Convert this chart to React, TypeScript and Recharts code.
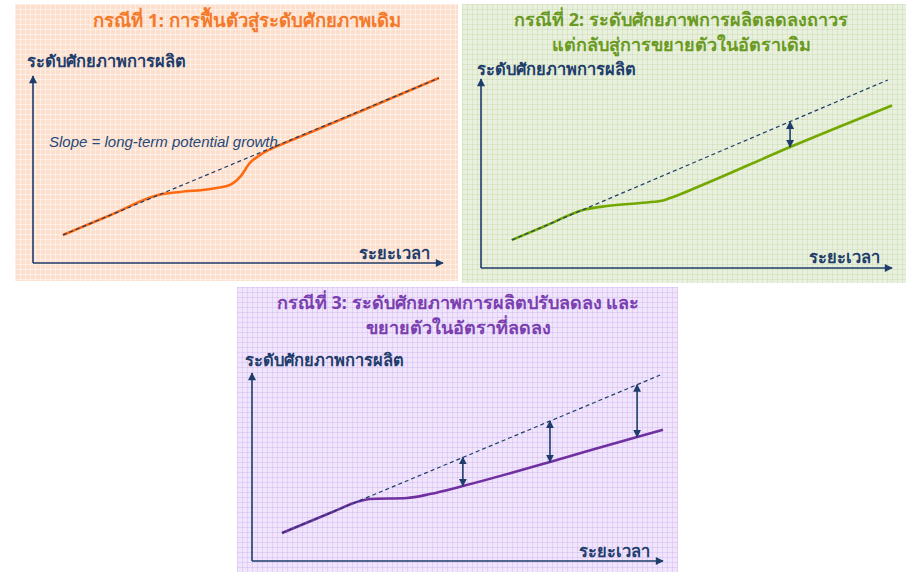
import React from "react";
import { Line, LineChart, ReferenceLine, XAxis, YAxis } from "recharts";

const NAVY = "#1f3d6b";
const FONT = '"Noto Sans", "DejaVu Sans", sans-serif';

// time t (0-100) vs potential output level v (0-100)

// case 1: recovery back to the original potential path
const potential1 = [
  { t: 7.3, v: 15.0 },
  { t: 99.0, v: 98.9 },
];
const output1 = [
  { t: 7.3, v: 15.0 },
  { t: 18.8, v: 25.5 },
  { t: 31.0, v: 36.6 },
  { t: 35.9, v: 38.0 },
  { t: 43.2, v: 39.6 },
  { t: 48.0, v: 41.7 },
  { t: 50.5, v: 46.0 },
  { t: 52.9, v: 53.5 },
  { t: 55.4, v: 57.8 },
  { t: 58.5, v: 61.5 },
  { t: 62.0, v: 64.7 },
  { t: 79.8, v: 81.0 },
  { t: 99.0, v: 98.9 },
];
const gaps1: { t: number; top: number; bottom: number }[] = [];

// case 2: permanent level loss, same growth rate
const potential2 = [
  { t: 7.5, v: 14.8 },
  { t: 99.0, v: 99.5 },
];
const output2 = [
  { t: 7.5, v: 14.8 },
  { t: 15.6, v: 22.2 },
  { t: 24.8, v: 30.7 },
  { t: 30.7, v: 32.8 },
  { t: 38.7, v: 34.4 },
  { t: 43.6, v: 35.4 },
  { t: 46.0, v: 37.0 },
  { t: 53.3, v: 43.4 },
  { t: 75.2, v: 64.0 },
  { t: 100, v: 86.0 },
];
const gaps2 = [{ t: 75.2, top: 77.4, bottom: 64.0 }];

// case 3: level loss and slower growth
const potential3 = [
  { t: 7.3, v: 14.9 },
  { t: 99.3, v: 98.9 },
];
const output3 = [
  { t: 7.3, v: 14.9 },
  { t: 19.0, v: 25.5 },
  { t: 26.3, v: 31.9 },
  { t: 28.7, v: 33.0 },
  { t: 37.7, v: 33.5 },
  { t: 43.3, v: 35.6 },
  { t: 51.3, v: 39.9 },
  { t: 72.5, v: 52.7 },
  { t: 93.7, v: 66.0 },
  { t: 100, v: 69.8 },
];
const gaps3 = [
  { t: 51.3, top: 55.2, bottom: 39.9 },
  { t: 72.5, top: 74.5, bottom: 52.7 },
  { t: 93.7, top: 93.8, bottom: 66.0 },
];

const Y_LABEL = "ระดับศักยภาพการผลิต";
const X_LABEL = "ระยะเวลา";

type Pt = { t: number; v: number };
type Gap = { t: number; top: number; bottom: number };

function CaseChart({
  id,
  width,
  height,
  margin,
  color,
  potential,
  output,
  gaps,
}: {
  id: string;
  width: number;
  height: number;
  margin: { top: number; right: number; bottom: number; left: number };
  color: string;
  potential: Pt[];
  output: Pt[];
  gaps: Gap[];
}) {
  const head = `url(#head-${id})`;
  const tip = `url(#tip-${id})`;
  // axes need a non-zero box or recharts skips them, so take 1px off the margins
  const m = { ...margin, left: margin.left - 1, bottom: margin.bottom - 1 };
  return (
    <LineChart width={width} height={height} margin={m}>
      <defs>
        <marker
          id={`head-${id}`}
          viewBox="0 0 10 10"
          refX={9}
          refY={5}
          markerWidth={9}
          markerHeight={8}
          markerUnits="userSpaceOnUse"
          orient="auto-start-reverse"
        >
          <path d="M0,0 L10,5 L0,10 z" fill={NAVY} />
        </marker>
        <marker
          id={`tip-${id}`}
          viewBox="0 0 10 10"
          refX={9}
          refY={5}
          markerWidth={8}
          markerHeight={8}
          markerUnits="userSpaceOnUse"
          orient="auto-start-reverse"
        >
          <path d="M0,0 L10,5 L0,10 z" fill={NAVY} />
        </marker>
      </defs>
      <XAxis
        type="number"
        dataKey="t"
        domain={[0, 100]}
        height={1}
        tick={false}
        tickLine={false}
        axisLine={{ stroke: NAVY, strokeWidth: 1.6, markerEnd: head }}
      />
      <YAxis
        type="number"
        domain={[0, 100]}
        width={1}
        tick={false}
        tickLine={false}
        axisLine={{ stroke: NAVY, strokeWidth: 1.6, markerStart: head }}
      />
      <Line
        data={output}
        dataKey="v"
        type="monotone"
        stroke={color}
        strokeWidth={2.6}
        dot={false}
        activeDot={false}
        isAnimationActive={false}
      />
      <Line
        data={potential}
        dataKey="v"
        type="linear"
        stroke={NAVY}
        strokeWidth={1.2}
        strokeDasharray="4 3"
        dot={false}
        activeDot={false}
        isAnimationActive={false}
      />
      {gaps.map((g) => (
        <ReferenceLine
          key={g.t}
          segment={[
            { x: g.t, y: g.top },
            { x: g.t, y: g.bottom },
          ]}
          stroke={NAVY}
          strokeWidth={1.6}
          markerStart={tip}
          markerEnd={tip}
        />
      ))}
    </LineChart>
  );
}

const grid = (base: string, line: string): React.CSSProperties => ({
  backgroundColor: base,
  backgroundImage: `linear-gradient(${line} 1px, transparent 1px), linear-gradient(90deg, ${line} 1px, transparent 1px)`,
  backgroundSize: "5px 5px",
});

const abs = (left: number, top: number): React.CSSProperties => ({
  position: "absolute",
  left,
  top,
  whiteSpace: "nowrap",
});

const labelStyle: React.CSSProperties = {
  fontFamily: FONT,
  fontWeight: 700,
  fontSize: 16.5,
  color: NAVY,
  lineHeight: "20px",
};

const titleStyle = (color: string, size = 18.5): React.CSSProperties => ({
  fontFamily: FONT,
  fontWeight: 700,
  fontSize: size,
  lineHeight: "22px",
  color,
  textAlign: "center",
  transform: "translateX(-50%)",
});

export default function App() {
  return (
    <div style={{ position: "absolute", left: 0, top: 0, width: 911, height: 572, background: "#fff", fontFamily: FONT }}>
      {/* case 1 */}
      <div style={{ ...abs(15, 4), width: 443, height: 277, ...grid("#fcdfcc", "rgba(255,255,255,0.45)") }}>
        <CaseChart
          id="c1"
          width={443}
          height={277}
          margin={{ top: 72, right: 15, bottom: 18, left: 18 }}
          color="#ff6a10"
          potential={potential1}
          output={output1}
          gaps={gaps1}
        />
      </div>
      <div style={{ ...abs(247, 9), ...titleStyle("#f47a2a") }}>กรณีที่ 1: การฟื้นตัวสู่ระดับศักยภาพเดิม</div>
      <div style={{ ...abs(27, 51), ...labelStyle }}>{Y_LABEL}</div>
      <div style={{ ...abs(430, 243), transform: "translateX(-100%)", ...labelStyle }}>{X_LABEL}</div>
      <div
        style={{
          ...abs(49, 133),
          fontFamily: '"Liberation Sans", Arial, sans-serif',
          fontStyle: "italic",
          fontSize: 15,
          lineHeight: "18px",
          color: "#24497a",
        }}
      >
        Slope = long-term potential growth
      </div>

      {/* case 2 */}
      <div style={{ ...abs(462, 4), width: 444, height: 279, ...grid("#e9f0df", "rgba(190,215,155,0.35)") }}>
        <CaseChart
          id="c2"
          width={444}
          height={279}
          margin={{ top: 75, right: 14, bottom: 15, left: 19 }}
          color="#72a800"
          potential={potential2}
          output={output2}
          gaps={gaps2}
        />
      </div>
      <div style={{ ...abs(681, 8), ...titleStyle("#6a9a22", 18) }}>กรณีที่ 2: ระดับศักยภาพการผลิตลดลงถาวร</div>
      <div style={{ ...abs(681, 33), ...titleStyle("#6a9a22", 18) }}>แต่กลับสู่การขยายตัวในอัตราเดิม</div>
      <div style={{ ...abs(477, 59), ...labelStyle }}>{Y_LABEL}</div>
      <div style={{ ...abs(880, 247), transform: "translateX(-100%)", ...labelStyle }}>{X_LABEL}</div>

      {/* case 3 */}
      <div style={{ ...abs(237, 287), width: 441, height: 285, ...grid("#f0e5fb", "rgba(200,170,240,0.35)") }}>
        <CaseChart
          id="c3"
          width={441}
          height={285}
          margin={{ top: 86, right: 15, bottom: 11, left: 15 }}
          color="#7030a0"
          potential={potential3}
          output={output3}
          gaps={gaps3}
        />
      </div>
      <div style={{ ...abs(458, 291), ...titleStyle("#7b3fb0", 18) }}>กรณีที่ 3: ระดับศักยภาพการผลิตปรับลดลง และ</div>
      <div style={{ ...abs(458, 316), ...titleStyle("#7b3fb0", 18) }}>ขยายตัวในอัตราที่ลดลง</div>
      <div style={{ ...abs(245, 350), ...labelStyle }}>{Y_LABEL}</div>
      <div style={{ ...abs(650, 541), transform: "translateX(-100%)", ...labelStyle }}>{X_LABEL}</div>
    </div>
  );
}
